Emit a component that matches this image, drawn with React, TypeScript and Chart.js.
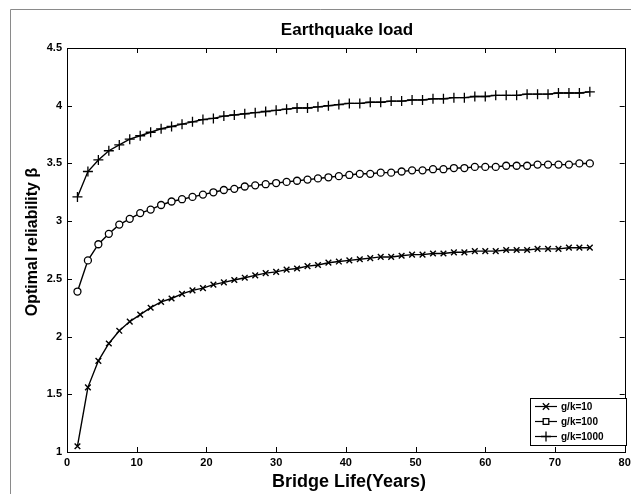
import React, { useEffect, useRef } from "react";
import { Chart, registerables } from "chart.js";

Chart.register(...registerables);

const years: number[] = [
  1.5, 3, 4.5, 6, 7.5, 9, 10.5, 12, 13.5, 15, 16.5, 18, 19.5, 21, 22.5, 24, 25.5, 27, 28.5, 30,
  31.5, 33, 34.5, 36, 37.5, 39, 40.5, 42, 43.5, 45, 46.5, 48, 49.5, 51, 52.5, 54, 55.5, 57, 58.5, 60,
  61.5, 63, 64.5, 66, 67.5, 69, 70.5, 72, 73.5, 75,
];

const beta10: number[] = [
  1.05, 1.56, 1.79, 1.94, 2.05, 2.13, 2.19, 2.25, 2.3, 2.33, 2.37, 2.4, 2.42, 2.45, 2.47, 2.49, 2.51, 2.53, 2.55, 2.56,
  2.58, 2.59, 2.61, 2.62, 2.64, 2.65, 2.66, 2.67, 2.68, 2.69, 2.69, 2.7, 2.71, 2.71, 2.72, 2.72, 2.73, 2.73, 2.74, 2.74,
  2.74, 2.75, 2.75, 2.75, 2.76, 2.76, 2.76, 2.77, 2.77, 2.77,
];

const beta100: number[] = [
  2.39, 2.66, 2.8, 2.89, 2.97, 3.02, 3.07, 3.1, 3.14, 3.17, 3.19, 3.21, 3.23, 3.25, 3.27, 3.28, 3.3, 3.31, 3.32, 3.33,
  3.34, 3.35, 3.36, 3.37, 3.38, 3.39, 3.4, 3.41, 3.41, 3.42, 3.42, 3.43, 3.44, 3.44, 3.45, 3.45, 3.46, 3.46, 3.47, 3.47,
  3.47, 3.48, 3.48, 3.48, 3.49, 3.49, 3.49, 3.49, 3.5, 3.5,
];

const beta1000: number[] = [
  3.21, 3.43, 3.53, 3.61, 3.66, 3.71, 3.74, 3.77, 3.8, 3.82, 3.84, 3.86, 3.88, 3.89, 3.91, 3.92, 3.93, 3.94, 3.95, 3.96,
  3.97, 3.98, 3.98, 3.99, 4.0, 4.01, 4.02, 4.02, 4.03, 4.03, 4.04, 4.04, 4.05, 4.05, 4.06, 4.06, 4.07, 4.07, 4.08, 4.08,
  4.09, 4.09, 4.09, 4.1, 4.1, 4.1, 4.11, 4.11, 4.11, 4.12,
];

const seriesLabels: string[] = ["g/k=10", "g/k=100", "g/k=1000"];
const xTickValues: number[] = [0, 10, 20, 30, 40, 50, 60, 70, 80];
const yTickValues: number[] = [1, 1.5, 2, 2.5, 3, 3.5, 4, 4.5];

const chartTitle = "Earthquake load";
const xTitle = "Bridge Life(Years)";
const yTitle = "Optimal reliability \u03b2";

const FONT = "'Liberation Sans', Arial, sans-serif";

function drawMarker(ctx: CanvasRenderingContext2D, style: string, x: number, y: number, r: number) {
  ctx.save();
  ctx.strokeStyle = "#000";
  ctx.lineWidth = 1.3;
  ctx.beginPath();
  if (style === "crossRot") {
    const d = r * 0.8;
    ctx.moveTo(x - d, y - d);
    ctx.lineTo(x + d, y + d);
    ctx.moveTo(x + d, y - d);
    ctx.lineTo(x - d, y + d);
    ctx.stroke();
  } else if (style === "cross") {
    ctx.moveTo(x - r, y);
    ctx.lineTo(x + r, y);
    ctx.moveTo(x, y - r);
    ctx.lineTo(x, y + r);
    ctx.stroke();
  } else {
    ctx.fillStyle = "#fff";
    ctx.rect(x - r * 0.8, y - r * 0.8, r * 1.6, r * 1.6);
    ctx.fill();
    ctx.stroke();
  }
  ctx.restore();
}

const decorPlugin = {
  id: "decor",
  beforeDraw(chart: any) {
    const ctx = chart.ctx;
    ctx.save();
    ctx.fillStyle = "#fff";
    ctx.fillRect(0, 0, chart.width, chart.height);
    ctx.strokeStyle = "#8a8a8a";
    ctx.lineWidth = 1;
    ctx.beginPath();
    ctx.moveTo(10.5, chart.height);
    ctx.lineTo(10.5, 9.5);
    ctx.lineTo(chart.width, 9.5);
    ctx.stroke();
    ctx.restore();
  },
  afterDraw(chart: any) {
    const ctx = chart.ctx;
    const a = chart.chartArea;
    const xs = chart.scales.x;
    const ys = chart.scales.y;
    ctx.save();
    ctx.strokeStyle = "#000";
    ctx.lineWidth = 1;
    ctx.strokeRect(Math.round(a.left) + 0.5, Math.round(a.top) + 0.5, Math.round(a.right - a.left), Math.round(a.bottom - a.top));
    ctx.beginPath();
    const tl = 5;
    xTickValues.forEach((v) => {
      const px = Math.round(xs.getPixelForValue(v)) + 0.5;
      ctx.moveTo(px, a.bottom);
      ctx.lineTo(px, a.bottom - tl);
      ctx.moveTo(px, a.top);
      ctx.lineTo(px, a.top + tl);
    });
    yTickValues.forEach((v) => {
      const py = Math.round(ys.getPixelForValue(v)) + 0.5;
      ctx.moveTo(a.left, py);
      ctx.lineTo(a.left + tl, py);
      ctx.moveTo(a.right, py);
      ctx.lineTo(a.right - tl, py);
    });
    ctx.stroke();

    // titles
    ctx.fillStyle = "#000";
    ctx.textAlign = "center";
    ctx.textBaseline = "middle";
    ctx.font = `bold 17px ${FONT}`;
    ctx.fillText(chartTitle, 347, 30);
    ctx.font = `bold 18px ${FONT}`;
    ctx.fillText(xTitle, 349, 482);
    ctx.save();
    ctx.translate(33, 242);
    ctx.rotate(-Math.PI / 2);
    ctx.font = `bold 16px ${FONT}`;
    ctx.fillText(yTitle, 0, 0);
    ctx.restore();

    // legend
    const lx = 530;
    const ly = 398;
    const lw = 96;
    const rowH = 15;
    const lh = rowH * 3 + 2;
    ctx.fillStyle = "#fff";
    ctx.fillRect(lx, ly, lw, lh);
    ctx.strokeStyle = "#000";
    ctx.lineWidth = 1;
    ctx.strokeRect(lx + 0.5, ly + 0.5, lw, lh);
    chart.data.datasets.forEach((ds: any, i: number) => {
      const cy = ly + 8.5 + i * rowH;
      ctx.strokeStyle = "#000";
      ctx.lineWidth = 1.2;
      ctx.beginPath();
      ctx.moveTo(lx + 5, cy);
      ctx.lineTo(lx + 27, cy);
      ctx.stroke();
      drawMarker(ctx, ds.pointStyle, lx + 16, cy, ds.pointRadius);
      ctx.fillStyle = "#000";
      ctx.textAlign = "left";
      ctx.font = `bold 10px ${FONT}`;
      ctx.fillText(ds.label, lx + 31, cy + 0.5);
    });
    ctx.restore();
  },
};

export default function App() {
  const ref = useRef<HTMLCanvasElement | null>(null);

  useEffect(() => {
    document.body.style.margin = "0";
    if (!ref.current) return;
    const mk = (vals: number[]) => years.map((x, i) => ({ x, y: vals[i] }));
    const chart = new Chart(ref.current, {
      type: "line",
      data: {
        datasets: [
          {
            label: seriesLabels[0],
            data: mk(beta10),
            borderColor: "#000",
            borderWidth: 1.4,
            pointStyle: "crossRot",
            pointRadius: 4,
            pointBorderWidth: 1.4,
            pointBorderColor: "#000",
            pointBackgroundColor: "#000",
            tension: 0,
          },
          {
            label: seriesLabels[1],
            data: mk(beta100),
            borderColor: "#000",
            borderWidth: 1.4,
            pointStyle: "circle",
            pointRadius: 3.5,
            pointBorderWidth: 1.3,
            pointBorderColor: "#000",
            pointBackgroundColor: "#fff",
            tension: 0,
          },
          {
            label: seriesLabels[2],
            data: mk(beta1000),
            borderColor: "#000",
            borderWidth: 1.4,
            pointStyle: "cross",
            pointRadius: 5,
            pointBorderWidth: 1.3,
            pointBorderColor: "#000",
            pointBackgroundColor: "#000",
            tension: 0,
          },
        ] as any,
      },
      options: {
        animation: false,
        responsive: false,
        maintainAspectRatio: false,
        devicePixelRatio: 1,
        layout: { padding: { left: 0, right: 3, top: 48, bottom: 0 } },
        plugins: {
          legend: { display: false },
          title: { display: false },
          tooltip: { enabled: false },
        },
        scales: {
          x: {
            type: "linear",
            min: 0,
            max: 80,
            afterFit: (s: any) => {
              s.height = 42;
              s.paddingRight = 0;
              s.paddingLeft = 0;
            },
            afterBuildTicks: (s: any) => {
              s.ticks = xTickValues.map((v) => ({ value: v }));
            },
            grid: { display: false, drawTicks: false },
            border: { display: true, color: "#000", width: 1 },
            ticks: {
              color: "#000",
              padding: 4,
              maxRotation: 0,
              autoSkip: false,
              font: { family: FONT, size: 11, weight: "bold" },
              callback: (v: any) => String(v),
            },
          },
          y: {
            type: "linear",
            min: 1,
            max: 4.5,
            afterFit: (s: any) => {
              s.width = 67;
              s.paddingTop = 0;
              s.paddingBottom = 0;
            },
            afterBuildTicks: (s: any) => {
              s.ticks = yTickValues.map((v) => ({ value: v }));
            },
            grid: { display: false, drawTicks: false },
            border: { display: true, color: "#000", width: 1 },
            ticks: {
              color: "#000",
              padding: 5,
              autoSkip: false,
              font: { family: FONT, size: 11, weight: "bold" },
              callback: (v: any) => String(v),
            },
          },
        },
      } as any,
      plugins: [decorPlugin],
    });
    return () => chart.destroy();
  }, []);

  return (
    <div style={{ position: "relative", width: 631, height: 494 }}>
      <canvas ref={ref} width={631} height={494} style={{ display: "block", width: 631, height: 494 }} />
    </div>
  );
}
